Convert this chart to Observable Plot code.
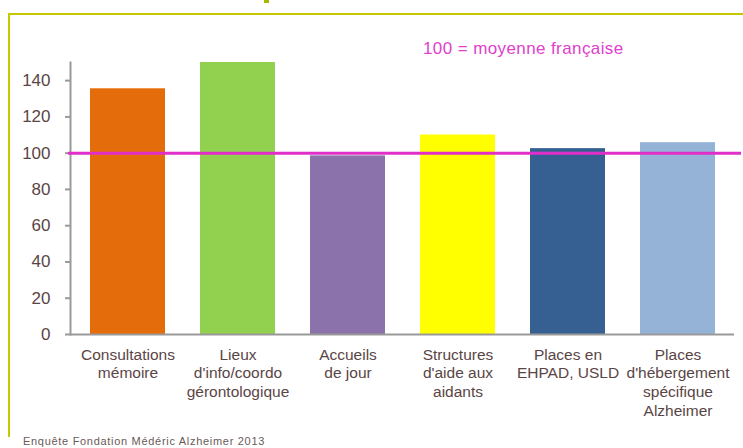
<!DOCTYPE html>
<html>
<head>
<meta charset="utf-8">
<script src="https://cdn.jsdelivr.net/npm/d3@7"></script>
<script src="https://cdn.jsdelivr.net/npm/@observablehq/plot@0.6"></script>
<style>
  html, body { margin: 0; padding: 0; background: #fff; }
  #wrap { position: relative; width: 743px; height: 448px; overflow: hidden; background: #fff; font-family: "Liberation Sans", Arial, sans-serif; }
  #frame { position: absolute; left: 8px; top: 13px; width: 800px; height: 422px; border-top: 2px solid #c8c800; border-left: 2px solid #c8c800; }
  #frag { position: absolute; left: 264px; top: 0; width: 5px; height: 3px; background: #a8b800; }
  #chart { position: absolute; left: 0; top: 0; }
  #note { position: absolute; left: 423px; top: 40px; font-size: 17px; line-height: 1; letter-spacing: 0.4px; color: #e040cc; white-space: nowrap; }
  #caption { position: absolute; left: 23px; top: 436px; font-size: 11px; line-height: 1; letter-spacing: 0.7px; color: #6a5a5a; white-space: nowrap; }
</style>
</head>
<body>
<div id="wrap">
  <div id="frame"></div>
  <div id="frag"></div>
  <div id="chart"></div>
  <div id="note">100 = moyenne française</div>
  <div id="caption">Enquête Fondation Médéric Alzheimer 2013</div>
</div>
<script>
const categories = [
  "Consultations\nmémoire",
  "Lieux\nd'info/coordo\ngérontologique",
  "Accueils\nde jour",
  "Structures\nd'aide aux\naidants",
  "Places en\nEHPAD, USLD",
  "Places\nd'hébergement\nspécifique\nAlzheimer"
];
const values = [135.5, 150, 98.5, 110, 102.5, 105.8];
const barColors = ["#e46c0a", "#92d050", "#8b72aa", "#ffff00", "#376092", "#95b3d7"];
const yTicks = [0, 20, 40, 60, 80, 100, 120, 140];
const reference = [100];

const data = categories.map((c, i) => ({cat: c, value: values[i]}));

const chart = Plot.plot({
  width: 743,
  height: 448,
  marginLeft: 70,
  marginRight: 9,
  marginTop: 62,
  marginBottom: 114,
  style: {background: "transparent", fontFamily: "Liberation Sans, Arial, sans-serif"},
  x: {domain: categories, paddingInner: 0.32, paddingOuter: 0.16, label: null},
  y: {domain: [0, 150], label: null},
  color: {domain: categories, range: barColors},
  marks: [
    Plot.barY(data, {x: "cat", y: "value", fill: "cat"}),
    Plot.frame({anchor: "left", stroke: "#999", strokeWidth: 2}),
    Plot.ruleY([0], {stroke: "#999", strokeWidth: 2}),
    Plot.axisY({ticks: yTicks, tickSize: 5, tickPadding: 15, stroke: "#999", strokeWidth: 2, fill: "#5a4545", fontSize: 17, label: null}),
    Plot.axisX({tickSize: 0, tickPadding: 12, fill: "#5a4545", fontSize: 15.5, lineHeight: 1.2, label: null}),
    Plot.ruleY(reference, {stroke: "#e22ec8", strokeWidth: 3, insetLeft: -2, insetRight: -7})
  ]
});
document.getElementById("chart").appendChild(chart);
</script>
</body>
</html>
